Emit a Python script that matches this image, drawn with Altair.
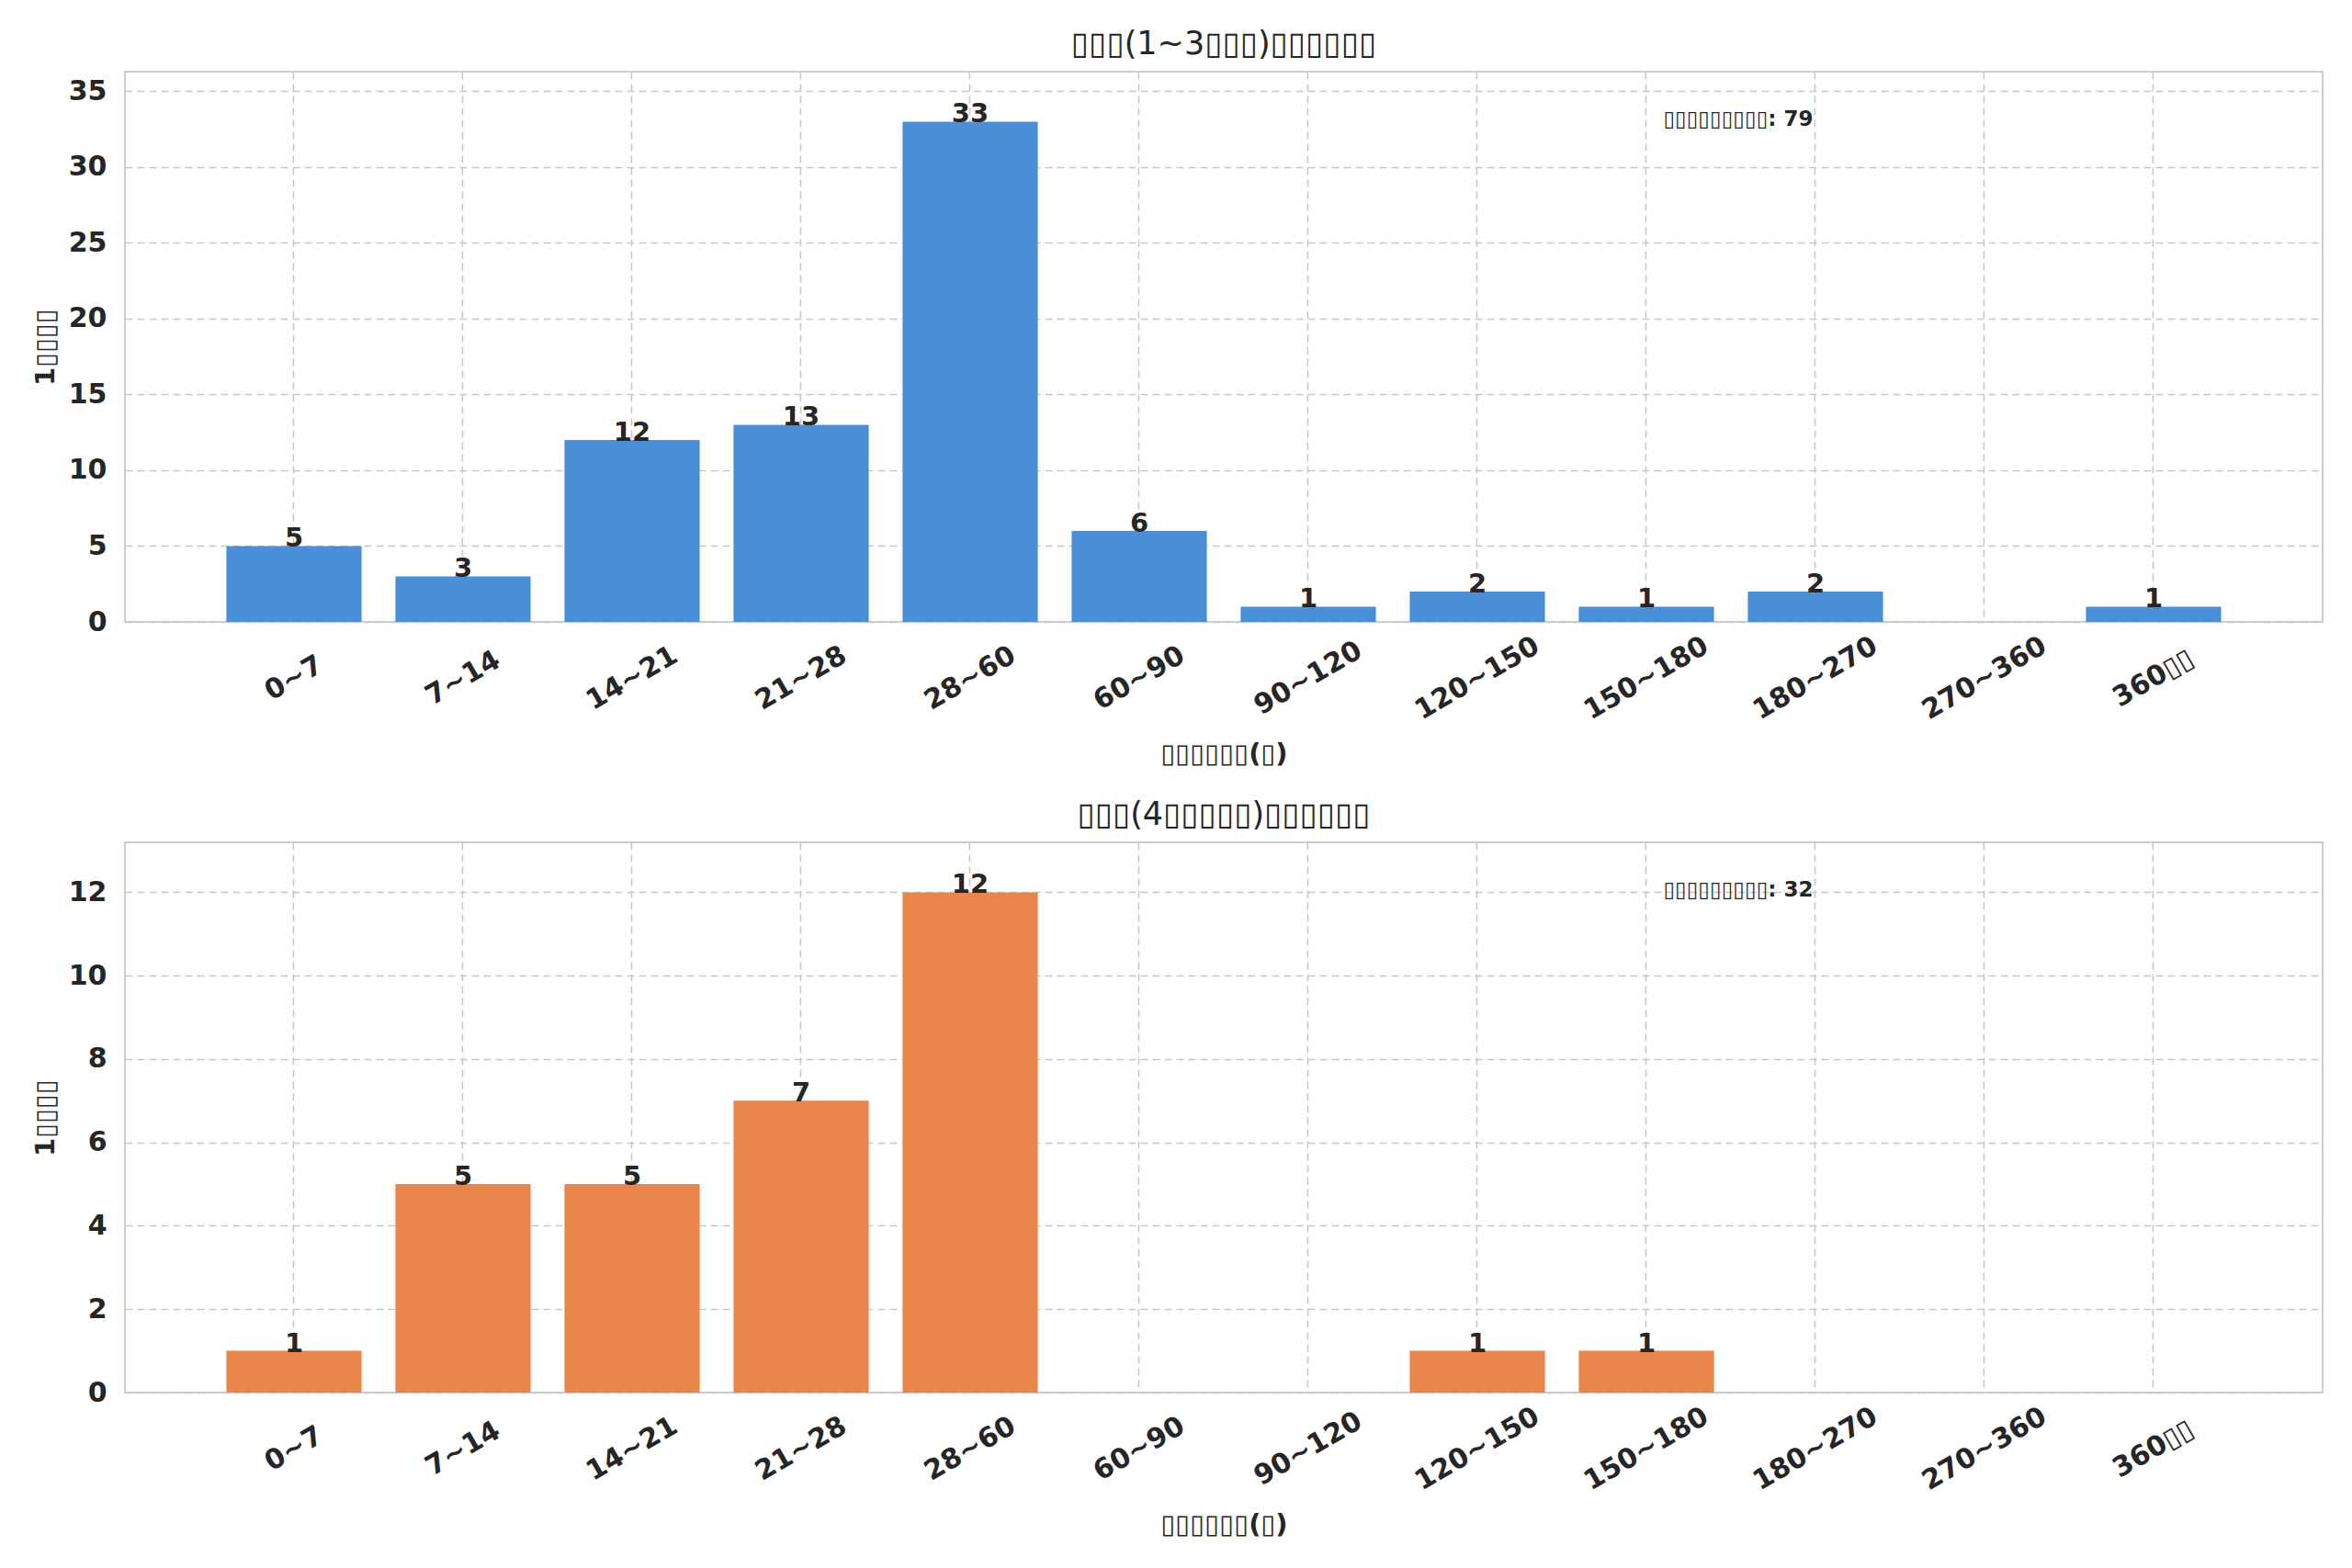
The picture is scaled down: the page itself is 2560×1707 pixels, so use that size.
import altair as alt
import pandas as pd

categories = ["0~7", "7~14", "14~21", "21~28", "28~60", "60~90", "90~120",
              "120~150", "150~180", "180~270", "270~360", "360▯▯"]
counts_top = [5, 3, 12, 13, 33, 6, 1, 2, 1, 2, 0, 1]
counts_bottom = [1, 5, 5, 7, 12, 0, 0, 1, 1, 0, 0, 0]
title_top = "▯▯▯(1~3▯▯▯)▯▯▯▯▯▯"
title_bottom = "▯▯▯(4▯▯▯▯▯)▯▯▯▯▯▯"
x_title = "▯▯▯▯▯▯(▯)"
y_title = "1▯▯▯▯"
annot_label = "▯▯▯▯▯▯▯▯▯"
colors = ["#4A90D9", "#E8854A"]

W, H = 2392, 599
FONT = "DejaVu Sans"
TXT = "#262626"


def panel(counts, color, title, ymax, ystep):
    df = pd.DataFrame({"cat": categories, "n": counts})
    x = alt.X(
        "cat:N", sort=categories, title=x_title,
        scale=alt.Scale(paddingInner=0.2, paddingOuter=0.6),
        axis=alt.Axis(labelAngle=330, labelAlign="center", labelBaseline="middle",
                      labelPadding=61, bandPosition=0.5, grid=True, ticks=False,
                      domain=False, titlePadding=18),
    )
    y = alt.Y(
        "n:Q", title=y_title,
        scale=alt.Scale(domain=[0, ymax], nice=False, zero=True),
        axis=alt.Axis(values=list(range(0, int(ymax) + 1, ystep)), grid=True,
                      ticks=False, domain=False, labelPadding=20, titlePadding=10),
    )
    base = alt.Chart(df).encode(x=x, y=y)
    bars = base.mark_bar(color=color)
    labels = base.transform_filter("datum.n > 0").mark_text(
        baseline="alphabetic", dy=1, fontSize=29, fontWeight="bold", color=TXT, font=FONT
    ).encode(text="n:Q")
    ann_df = pd.DataFrame({"t": [f"{annot_label}: {sum(counts)}"]})
    annot = alt.Chart(ann_df).mark_text(
        align="left", baseline="middle", fontSize=23, fontWeight="bold", color=TXT, font=FONT
    ).encode(x=alt.value(W * 0.70), y=alt.value(H * 0.087), text="t:N")
    return alt.layer(bars, labels, annot).properties(
        width=W, height=H,
        title=alt.TitleParams(title, fontSize=35, fontWeight="normal", color=TXT,
                              font=FONT, offset=12),
    )


top = panel(counts_top, colors[0], title_top, 36.3, 5)
bottom = panel(counts_bottom, colors[1], title_bottom, 13.2, 2)

chart = alt.vconcat(top, bottom, spacing=32).properties(
    padding={"left": 26, "top": 22, "right": 10, "bottom": 10}
).configure(font=FONT, background="white").configure_view(
    stroke="#cccccc", strokeWidth=2
).configure_axis(
    labelFont=FONT, titleFont=FONT, labelFontSize=30, titleFontSize=29,
    labelFontWeight="bold", titleFontWeight="bold", labelColor=TXT, titleColor=TXT,
    gridColor="#c8c8c8", gridDash=[8, 5], gridWidth=1.6,
)

chart.save("out.html", embed_options={"renderer": "svg", "actions": False})
